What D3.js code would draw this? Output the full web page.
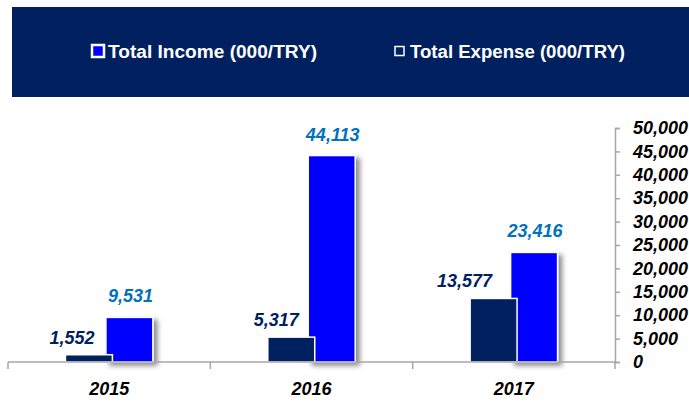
<!DOCTYPE html>
<html>
<head>
<meta charset="utf-8">
<script src="https://cdn.jsdelivr.net/npm/d3@7"></script>
<style>
  html, body { margin: 0; padding: 0; background: #ffffff; }
  svg { display: block; }
  text { font-family: "Liberation Sans", Arial, sans-serif; }
</style>
</head>
<body>
<svg id="chart" width="689" height="402"></svg>
<script>
// ---- data ----
const years = ["2015", "2016", "2017"];
const incomeValues = [9531, 44113, 23416];
const expenseValues = [1552, 5317, 13577];
const seriesNames = ["Total Income (000/TRY)", "Total Expense (000/TRY)"];
const yTickValues = [0, 5000, 10000, 15000, 20000, 25000, 30000, 35000, 40000, 45000, 50000];

// ---- layout ----
const W = 689, H = 402;
const plotLeft = 8, plotRight = 615, plotTop = 128, plotBottom = 362;
const navy = "#002060", blue = "#0000FF", labelBlue = "#0070C0", axisGray = "#a6a6a6";

const svg = d3.select("#chart");

// shadow filter
const defs = svg.append("defs");
const f = defs.append("filter").attr("id", "shadow").attr("x", "-20%").attr("y", "-20%").attr("width", "150%").attr("height", "150%");
f.append("feDropShadow").attr("dx", 4).attr("dy", 3).attr("stdDeviation", 2.5)
  .attr("flood-color", "#000").attr("flood-opacity", 0.45);

// header band
svg.append("rect").attr("x", 12).attr("y", 7).attr("width", W - 12).attr("height", 90).attr("fill", navy);

// legend
const legend = [
  { name: seriesNames[0], fill: blue, mx: 91, msize: 14, tx: 108, tlen: 209 },
  { name: seriesNames[1], fill: navy, mx: 394, msize: 11, tx: 410, tlen: 215 }
];
legend.forEach(l => {
  const cy = 51;
  svg.append("rect")
    .attr("x", l.mx + 1).attr("y", cy - l.msize / 2 + 1)
    .attr("width", l.msize - 2).attr("height", l.msize - 2)
    .attr("fill", l.fill).attr("stroke", "#ffffff").attr("stroke-width", l.msize > 12 ? 2.5 : 1.5);
  svg.append("text")
    .attr("x", l.tx).attr("y", 58)
    .attr("fill", "#ffffff").attr("font-size", 18).attr("font-weight", "bold")
    .attr("textLength", l.tlen).attr("lengthAdjust", "spacingAndGlyphs")
    .text(l.name);
});

// scales
const x = d3.scaleBand().domain(years).range([plotLeft, plotRight]).padding(0);
const y = d3.scaleLinear().domain([0, 50000]).range([plotBottom, plotTop]);
const bw = x.bandwidth();
const barW = bw * 0.232;
const off = bw * 0.1;

// income bars (behind, with shadow)
const g = svg.append("g");
g.selectAll("rect.inc").data(years).join("rect")
  .attr("class", "inc")
  .attr("x", d => x(d) + bw / 2 + off - barW / 2)
  .attr("y", (d, i) => y(incomeValues[i]))
  .attr("width", barW)
  .attr("height", (d, i) => y(0) - y(incomeValues[i]))
  .attr("fill", blue).attr("stroke", "#ffffff").attr("stroke-width", 1.5)
  .attr("filter", "url(#shadow)");

// expense bars (in front)
g.selectAll("rect.exp").data(years).join("rect")
  .attr("class", "exp")
  .attr("x", d => x(d) + bw / 2 - off - barW / 2)
  .attr("y", (d, i) => y(expenseValues[i]))
  .attr("width", barW)
  .attr("height", (d, i) => y(0) - y(expenseValues[i]))
  .attr("fill", navy).attr("stroke", "#ffffff").attr("stroke-width", 1.5);

// axes
const xAxisG = svg.append("g").attr("transform", `translate(0,${plotBottom})`);
xAxisG.append("line").attr("x1", plotLeft).attr("x2", plotRight).attr("y1", 0).attr("y2", 0)
  .attr("stroke", axisGray).attr("stroke-width", 1.5);
const xTicks = years.map(d => x(d)).concat([plotRight]);
xAxisG.selectAll("line.tk").data(xTicks).join("line").attr("class", "tk")
  .attr("x1", d => d).attr("x2", d => d).attr("y1", 0).attr("y2", 7)
  .attr("stroke", axisGray).attr("stroke-width", 1.5);
xAxisG.selectAll("text").data(years).join("text")
  .attr("x", d => x(d) + bw / 2).attr("y", 33)
  .attr("text-anchor", "middle").attr("font-size", 18)
  .attr("font-weight", "bold").attr("font-style", "italic").attr("fill", "#000")
  .text(d => d);

const yAxis = d3.axisRight(y).tickValues(yTickValues).tickSize(5).tickPadding(13)
  .tickFormat(d3.format(","));
const yAxisG = svg.append("g").attr("transform", `translate(${plotRight},0)`).call(yAxis);
yAxisG.select(".domain").attr("stroke", axisGray).attr("stroke-width", 1.5);
yAxisG.selectAll(".tick line").attr("stroke", axisGray).attr("stroke-width", 1.5);
yAxisG.selectAll(".tick text")
  .attr("font-family", "Liberation Sans, Arial, sans-serif")
  .attr("font-size", 18).attr("font-weight", "bold").attr("font-style", "italic")
  .attr("fill", "#000");

// data labels
const fmt = d3.format(",");
svg.selectAll("text.incl").data(years).join("text").attr("class", "incl")
  .attr("x", d => x(d) + bw / 2 + off + 1)
  .attr("y", (d, i) => y(incomeValues[i]) - 15)
  .attr("text-anchor", "middle").attr("font-size", 18)
  .attr("font-weight", "bold").attr("font-style", "italic").attr("fill", labelBlue)
  .text((d, i) => fmt(incomeValues[i]));

const expLabelShift = [17, 15, 29];
svg.selectAll("text.expl").data(years).join("text").attr("class", "expl")
  .attr("x", (d, i) => x(d) + bw / 2 - off - expLabelShift[i])
  .attr("y", (d, i) => y(expenseValues[i]) - 11)
  .attr("text-anchor", "middle").attr("font-size", 18)
  .attr("font-weight", "bold").attr("font-style", "italic").attr("fill", navy)
  .text((d, i) => fmt(expenseValues[i]));
</script>
</body>
</html>
